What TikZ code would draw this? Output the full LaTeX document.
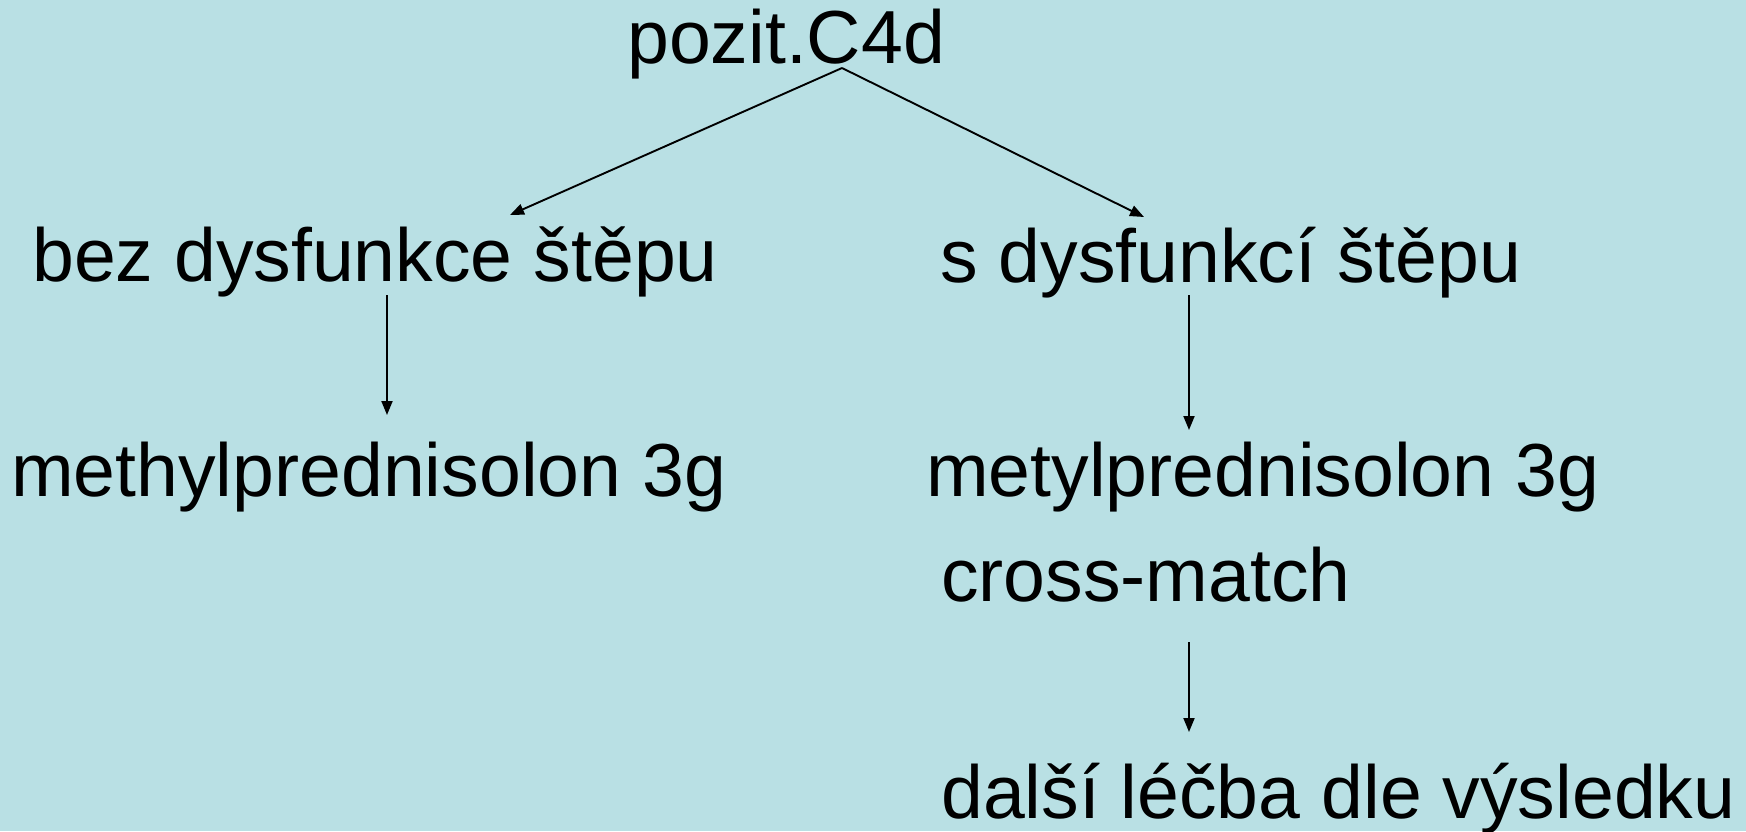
\documentclass[tikz,border=0pt]{standalone}
\usepackage{fontspec}
\setmainfont{Liberation Sans}
\usetikzlibrary{arrows.meta}
\definecolor{bgblue}{RGB}{185,224,228}
\begin{document}
\begin{tikzpicture}[x=1pt,y=-1pt,
  lbl/.style={anchor=base west,inner sep=0pt,font=\fontsize{75.2}{80}\selectfont},
  arr/.style={-{Triangle[length=14pt,width=11pt]},line width=1.9pt}]
\fill[bgblue] (0,0) rectangle (1746,831);
\useasboundingbox (0,0) rectangle (1746,831);
\node[lbl] (top) at (627,63) {pozit.C4d};
\node[lbl] (bez) at (32,281) {bez dysfunkce štěpu};
\node[lbl] (sdys) at (940,282) {s dysfunkcí štěpu};
\node[lbl] (meth) at (11,496) {methylprednisolon 3g};
\node[lbl] (metyl) at (926,496) {metylprednisolon 3g};
\node[lbl] (cross) at (941,601) {cross-match};
\node[lbl] (dalsi) at (941,818) {další léčba dle výsledku};
\coordinate (o) at (842,68);
\coordinate (lt) at (510,215);
\coordinate (rt) at (1144,217);
\coordinate (v1s) at (387,295);
\coordinate (v1e) at (387,415);
\coordinate (v2s) at (1189,295);
\coordinate (v2e) at (1189,430);
\coordinate (v3s) at (1189,642);
\coordinate (v3e) at (1189,732);
\draw[arr] (o) -- (lt);
\draw[arr] (o) -- (rt);
\draw[arr] (v1s) -- (v1e);
\draw[arr] (v2s) -- (v2e);
\draw[arr] (v3s) -- (v3e);
\end{tikzpicture}
\end{document}
